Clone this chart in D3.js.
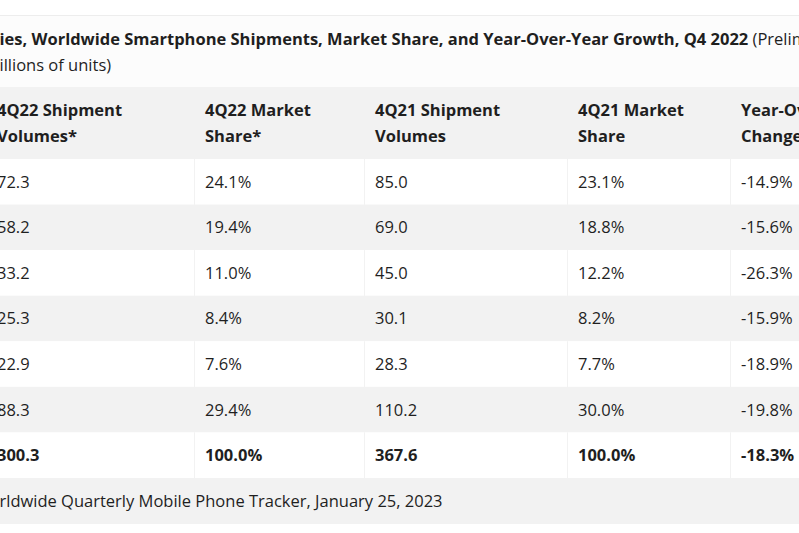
<!DOCTYPE html>
<html>
<head>
<meta charset="utf-8">
<script src="https://cdn.jsdelivr.net/npm/d3@7/dist/d3.min.js"></script>
<style>
  html, body { margin: 0; padding: 0; background: #fff; }
  svg { display: block; font-family: "Open Sans", sans-serif; }
</style>
</head>
<body>
<svg id="chart" width="799" height="533"></svg>
<script>
// ---- data ----
const companies = ["Apple", "Samsung", "Xiaomi", "OPPO", "vivo", "Others", "Total"];
const ship22  = [72.3, 58.2, 33.2, 25.3, 22.9, 88.3, 300.3];
const share22 = [24.1, 19.4, 11.0, 8.4, 7.6, 29.4, 100.0];
const ship21  = [85.0, 69.0, 45.0, 30.1, 28.3, 110.2, 367.6];
const share21 = [23.1, 18.8, 12.2, 8.2, 7.7, 30.0, 100.0];
const yoy     = [-14.9, -15.6, -26.3, -15.9, -18.9, -19.8, -18.3];
const headerLines = [
  ["Company"],
  ["4Q22 Shipment", "Volumes*"],
  ["4Q22 Market", "Share*"],
  ["4Q21 Shipment", "Volumes"],
  ["4Q21 Market", "Share"],
  ["Year-Over-Year", "Change"]
];
const titleBold = "Top 5 Companies, Worldwide Smartphone Shipments, Market Share, and Year-Over-Year Growth, Q4 2022";
const titleRest = " (Preliminary results,";
const titleLine2 = "shipments in millions of units)";
const sourceText = "Source: IDC Worldwide Quarterly Mobile Phone Tracker, January 25, 2023";

// ---- layout ----
const W = 799, H = 533;
const FS = "16.5px";
const fmtLocale = d3.formatLocale({decimal: ".", thousands: ",", grouping: [3], currency: ["$", ""], minus: "-"});
const f1 = fmtLocale.format(".1f");
const pct = v => f1(v) + "%";

const rows = companies.map((c, i) => [c, f1(ship22[i]), pct(share22[i]), f1(ship21[i]), pct(share21[i]), pct(yoy[i])]);

const colLeft = d3.scaleOrdinal().domain(d3.range(7)).range([-118, -14, 194, 364, 567, 730, 960]);
const pad = 11;
const yRow = d3.scaleBand().domain(d3.range(rows.length)).range([159, 478]);
const headerTop = 87, headerBottom = 159;
const footTop = 478, footBottom = 524;
const textColor = "#1f1f1f";
const gray = "#f2f2f2";

const svg = d3.select("#chart");

// background
svg.append("rect").attr("width", W).attr("height", H).attr("fill", "#fff");

// title area
svg.append("rect").attr("x", -200).attr("y", 15).attr("width", W + 400).attr("height", headerTop - 15).attr("fill", "#fcfcfc");
svg.append("line").attr("x1", -200).attr("x2", W + 200).attr("y1", 15.5).attr("y2", 15.5).attr("stroke", "#ededed");

const t1 = svg.append("text").attr("y", 45).attr("fill", textColor).style("font-size", FS);
t1.append("tspan").attr("font-weight", 700).text(titleBold);
t1.append("tspan").attr("font-weight", 400).text(titleRest);
const pre1 = "Top 5 Compan";
t1.attr("x", 0);
let off1 = t1.node().getSubStringLength(0, pre1.length);
t1.attr("x", -off1 - 0.5);

const t2 = svg.append("text").attr("y", 71).attr("fill", textColor).style("font-size", FS).text(titleLine2).attr("x", 0);
const pre2 = "shipments in m";
let off2 = t2.node().getSubStringLength(0, pre2.length);
t2.attr("x", -off2 - 0.5);

// header
svg.append("rect").attr("x", -200).attr("y", headerTop).attr("width", W + 400).attr("height", headerBottom - headerTop).attr("fill", gray);
const hdr = svg.selectAll("text.hdr").data(headerLines).join("text")
  .attr("class", "hdr")
  .attr("fill", textColor)
  .attr("font-weight", 700)
  .style("font-size", FS);
hdr.each(function(lines, j) {
  d3.select(this).selectAll("tspan").data(lines).join("tspan")
    .attr("x", colLeft(j) + pad)
    .attr("y", (d, k) => 116 + k * 26)
    .text(d => d);
});

// body rows
const rowG = svg.selectAll("g.row").data(rows).join("g").attr("class", "row");
rowG.append("rect")
  .attr("x", -200).attr("y", (d, i) => yRow(i))
  .attr("width", W + 400).attr("height", yRow.bandwidth())
  .attr("fill", (d, i) => i % 2 === 1 ? gray : "#fff");
rowG.each(function(d, i) {
  const g = d3.select(this);
  const y0 = yRow(i), y1 = yRow(i) + yRow.bandwidth();
  g.selectAll("line").data(d3.range(1, 6)).join("line")
    .attr("x1", j => colLeft(j) + 0.5).attr("x2", j => colLeft(j) + 0.5)
    .attr("y1", y0).attr("y2", y1)
    .attr("stroke", gray);
  g.selectAll("text").data(d).join("text")
    .attr("x", (v, j) => colLeft(j) + pad)
    .attr("y", y0 + yRow.bandwidth() / 2 + 5.9)
    .attr("fill", textColor)
    .attr("font-weight", i === rows.length - 1 ? 700 : 400)
    .style("font-size", FS)
    .text(v => v);
});

// footer
svg.append("rect").attr("x", -200).attr("y", footTop).attr("width", W + 400).attr("height", footBottom - footTop).attr("fill", gray);
const ft = svg.append("text").attr("y", (footTop + footBottom) / 2 + 5.9).attr("fill", textColor).style("font-size", FS).text(sourceText).attr("x", 0);
const pre3 = "Source: IDC Wo";
let off3 = ft.node().getSubStringLength(0, pre3.length);
ft.attr("x", -off3 - 0.5);
</script>
</body>
</html>
